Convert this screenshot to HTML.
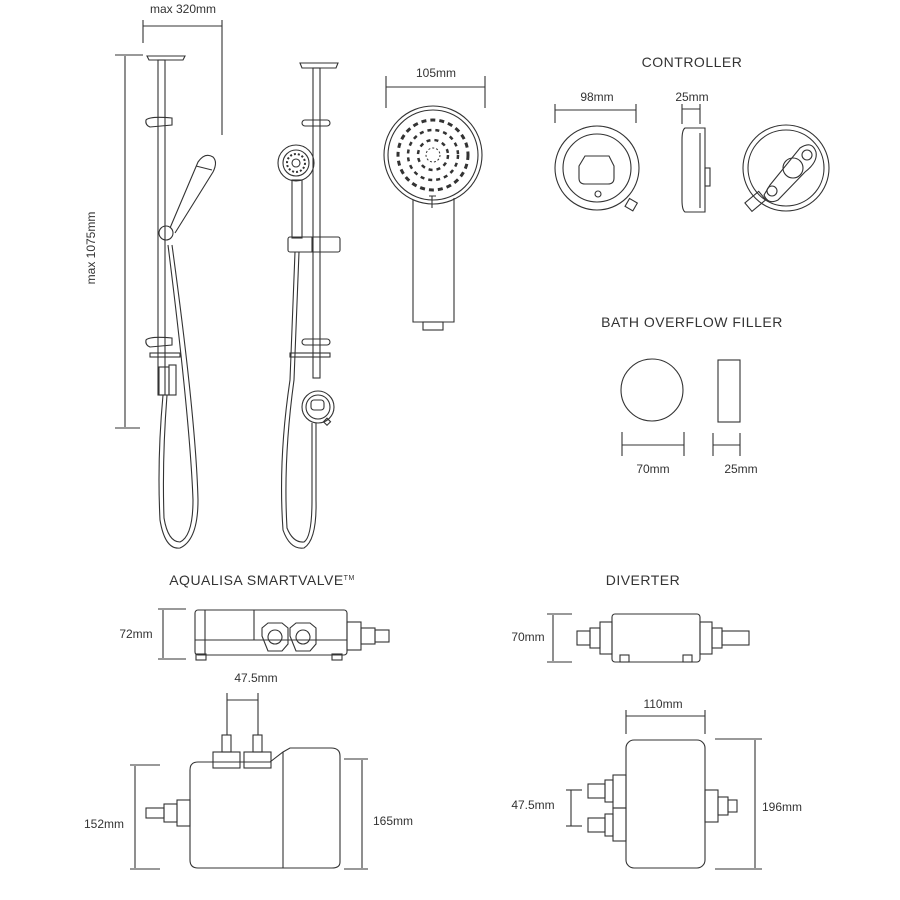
<!DOCTYPE html>
<html><head><meta charset="utf-8"><style>
html,body{margin:0;padding:0;background:#fff}
svg{display:block}
text{font-family:"Liberation Sans",sans-serif;fill:#333;font-size:12px}
.t{font-size:14px;letter-spacing:0.5px}
</style></head><body>
<svg width="900" height="900" viewBox="0 0 900 900" xmlns="http://www.w3.org/2000/svg">
<g fill="none" stroke="#333" stroke-width="1.1">
<!-- dimension: max 320 -->
<line x1="143" y1="26" x2="222" y2="26"/><line x1="143" y1="20" x2="143" y2="43"/><line x1="222" y1="20" x2="222" y2="135"/>
<line x1="125" y1="56" x2="125" y2="427"/><line x1="115" y1="55" x2="143" y2="55"/><line x1="115" y1="428" x2="140" y2="428"/>
<!-- shower 1 -->
<path d="M147 56 L185 56 L183 60 L149 60 Z"/>
<rect x="158" y="60" width="7" height="335"/>
<path d="M146 120 Q150 116 172 118 L172 125 L150 127 Q145 125 146 120Z"/>
<path d="M146 340 Q150 336 172 338 L172 345 L150 347 Q145 345 146 340Z"/>
<rect x="150" y="353" width="30" height="4"/>
<circle cx="166" cy="233" r="7"/>
<path d="M170 228 L198 162 Q205 152 213 157 Q218 162 213 172 L175 233"/>
<path d="M196 166 L212 170"/>
<rect x="159" y="367" width="10" height="28"/><rect x="169" y="365" width="7" height="30"/>
<path d="M163 395 Q157 460 160 520 Q165 550 180 548 Q198 540 198 500 Q196 420 172 245"/>
<path d="M167 395 Q162 460 164 518 Q168 542 180 542 Q193 536 193 500 Q190 420 168 245"/>
<!-- shower 2 -->
<path d="M300 63 L338 63 L336 68 L302 68 Z"/>
<rect x="313" y="68" width="7" height="310"/>
<rect x="302" y="120" width="28" height="6" rx="3"/>
<rect x="302" y="339" width="28" height="6" rx="3"/>
<rect x="290" y="353" width="40" height="4"/>
<circle cx="296" cy="163" r="18"/><circle cx="296" cy="163" r="13"/><circle cx="296" cy="163" r="4"/>
<rect x="292" y="180" width="10" height="58"/>
<rect x="288" y="237" width="52" height="15" rx="2"/><line x1="312" y1="237" x2="312" y2="252"/>
<circle cx="318" cy="407" r="16"/><circle cx="318" cy="407" r="12"/><rect x="311" y="400" width="13" height="10" rx="3"/>
<rect x="325" y="419" width="5" height="5" transform="rotate(45 327 421)"/>
<path d="M295 252 Q292 330 290 380 Q278 460 283 530 Q290 550 304 548 Q317 540 316 500 L316 423"/>
<path d="M299 252 Q296 330 294 380 Q283 460 287 528 Q293 543 304 542 Q312 537 312 500 L312 423"/>
<!-- big handset -->
<line x1="386" y1="87" x2="485" y2="87"/><line x1="386" y1="76" x2="386" y2="108"/><line x1="485" y1="76" x2="485" y2="108"/>
<circle cx="433" cy="155" r="49"/><circle cx="433" cy="155" r="45"/>
<path d="M413 200 L413 322 L454 322 L454 198"/>
<rect x="423" y="322" width="20" height="8"/>
<path d="M432 196 L432 208 M429 196 L436 196"/>
</g>
<g fill="none" stroke="#333" stroke-width="1">
<circle cx="433" cy="155" r="7" stroke-dasharray="2 2"/>
<circle cx="433" cy="155" r="15" stroke-dasharray="4 4" stroke-width="2.5"/>
<circle cx="433" cy="155" r="25" stroke-dasharray="4 4" stroke-width="2.5"/>
<circle cx="433" cy="155" r="35" stroke-dasharray="5 4" stroke-width="3"/>
<circle cx="296" cy="163" r="9" stroke-dasharray="2 2" stroke-width="2"/>
</g>
<g fill="none" stroke="#333" stroke-width="1.1">
<!-- controller -->
<line x1="555" y1="110" x2="636" y2="110"/><line x1="555" y1="104" x2="555" y2="123"/><line x1="636" y1="104" x2="636" y2="123"/>
<line x1="682" y1="109" x2="700" y2="109"/><line x1="682" y1="104" x2="682" y2="124"/><line x1="700" y1="104" x2="700" y2="124"/>
<circle cx="597" cy="168" r="42"/><circle cx="597" cy="168" r="34"/>
<path d="M585 156 L609 156 L614 166 L614 178 Q614 184 608 184 L585 184 Q579 184 579 178 L579 166 Z"/>
<circle cx="598" cy="194" r="3"/>
<rect x="627" y="200" width="9" height="9" transform="rotate(30 631 204)"/>
<path d="M685 128 L705 128 L705 212 L685 212 Q682 210 682 200 L682 140 Q682 130 685 128Z"/>
<line x1="700" y1="133" x2="700" y2="208"/><rect x="705" y="168" width="5" height="18"/>
<circle cx="786" cy="168" r="43"/><circle cx="786" cy="168" r="38"/>
<path d="M770 185 L800 148 Q812 140 816 152 Q818 162 805 172 L778 200 Q768 205 764 195Z"/>
<circle cx="793" cy="168" r="10"/><circle cx="807" cy="155" r="5"/><circle cx="772" cy="191" r="5"/>
<rect x="746" y="196" width="18" height="11" transform="rotate(-40 755 201)"/>
<!-- bath -->
<circle cx="652" cy="390" r="31"/>
<rect x="718" y="360" width="22" height="62"/>
<line x1="622" y1="445" x2="684" y2="445"/><line x1="622" y1="432" x2="622" y2="456"/><line x1="684" y1="432" x2="684" y2="456"/>
<line x1="713" y1="445" x2="740" y2="445"/><line x1="713" y1="433" x2="713" y2="456"/><line x1="740" y1="433" x2="740" y2="456"/>
<!-- smartvalve top -->
<line x1="163" y1="610" x2="163" y2="658"/><line x1="158" y1="609" x2="186" y2="609"/><line x1="158" y1="659" x2="186" y2="659"/>
<rect x="195" y="610" width="152" height="45" rx="3"/>
<line x1="205" y1="610" x2="205" y2="655"/><line x1="254" y1="610" x2="254" y2="640"/>
<line x1="195" y1="640" x2="347" y2="640"/>
<path d="M262 636 L262 628 L268 623 L282 623 L288 628 L288 644 L282 651 L268 651Z"/><circle cx="275" cy="637" r="7"/>
<path d="M290 636 L290 628 L296 623 L310 623 L316 628 L316 644 L310 651 L296 651Z"/><circle cx="303" cy="637" r="7"/>
<rect x="347" y="622" width="14" height="28"/><rect x="361" y="628" width="14" height="16"/><rect x="375" y="630" width="14" height="12"/>
<rect x="196" y="654" width="10" height="6"/><rect x="332" y="654" width="10" height="6"/>
<!-- smartvalve front -->
<line x1="227" y1="700" x2="258" y2="700"/><line x1="227" y1="693" x2="227" y2="735"/><line x1="258" y1="693" x2="258" y2="735"/>
<rect x="222" y="735" width="9" height="17"/><rect x="253" y="735" width="9" height="17"/>
<rect x="213" y="752" width="27" height="16"/><rect x="244" y="752" width="27" height="16"/>
<path d="M198 762 L270 762 L283 752 L290 748 L331 748 Q340 748 340 756 L340 862 Q340 868 332 868 L198 868 Q190 868 190 860 L190 770 Q190 762 198 762Z"/>
<line x1="283" y1="752" x2="283" y2="868"/>
<rect x="177" y="800" width="13" height="26"/><rect x="164" y="804" width="13" height="18"/><rect x="146" y="808" width="18" height="10"/>
<line x1="135" y1="766" x2="135" y2="868"/><line x1="130" y1="765" x2="160" y2="765"/><line x1="130" y1="869" x2="160" y2="869"/>
<line x1="362" y1="760" x2="362" y2="868"/><line x1="344" y1="759" x2="368" y2="759"/><line x1="344" y1="869" x2="368" y2="869"/>
<!-- diverter top -->
<line x1="553" y1="615" x2="553" y2="661"/><line x1="547" y1="614" x2="572" y2="614"/><line x1="547" y1="662" x2="572" y2="662"/>
<rect x="612" y="614" width="88" height="48" rx="3"/>
<rect x="600" y="622" width="12" height="32"/><rect x="590" y="628" width="10" height="20"/><rect x="577" y="631" width="13" height="14"/>
<rect x="700" y="622" width="12" height="32"/><rect x="712" y="628" width="10" height="20"/><rect x="722" y="631" width="27" height="14"/>
<rect x="620" y="655" width="9" height="7"/><rect x="683" y="655" width="9" height="7"/>
<!-- diverter front -->
<line x1="626" y1="716" x2="705" y2="716"/><line x1="626" y1="710" x2="626" y2="734"/><line x1="705" y1="710" x2="705" y2="734"/>
<rect x="626" y="740" width="79" height="128" rx="8"/>
<rect x="613" y="775" width="13" height="33"/><rect x="605" y="780" width="8" height="22"/><rect x="588" y="784" width="17" height="14"/>
<rect x="613" y="808" width="13" height="33"/><rect x="605" y="814" width="8" height="22"/><rect x="588" y="818" width="17" height="14"/>
<rect x="705" y="790" width="13" height="32"/><rect x="718" y="797" width="10" height="18"/><rect x="728" y="800" width="9" height="12"/>
<line x1="571" y1="790" x2="571" y2="826"/><line x1="566" y1="790" x2="582" y2="790"/><line x1="566" y1="826" x2="582" y2="826"/>
<line x1="755" y1="740" x2="755" y2="868"/><line x1="715" y1="739" x2="762" y2="739"/><line x1="715" y1="869" x2="762" y2="869"/>
</g>
<text x="183" y="13" text-anchor="middle">max 320mm</text>
<text x="0" y="0" text-anchor="middle" transform="translate(95 248) rotate(-90)">max 1075mm</text>
<text x="436" y="77" text-anchor="middle">105mm</text>
<text x="692" y="67" text-anchor="middle" class="t">CONTROLLER</text>
<text x="597" y="101" text-anchor="middle">98mm</text>
<text x="692" y="101" text-anchor="middle">25mm</text>
<text x="692" y="327" text-anchor="middle" class="t">BATH OVERFLOW FILLER</text>
<text x="653" y="473" text-anchor="middle">70mm</text>
<text x="741" y="473" text-anchor="middle">25mm</text>
<text x="262" y="585" text-anchor="middle" class="t">AQUALISA SMARTVALVE<tspan font-size="7" dy="-5">TM</tspan></text>
<text x="643" y="585" text-anchor="middle" class="t">DIVERTER</text>
<text x="136" y="638" text-anchor="middle">72mm</text>
<text x="528" y="641" text-anchor="middle">70mm</text>
<text x="256" y="682" text-anchor="middle">47.5mm</text>
<text x="663" y="708" text-anchor="middle">110mm</text>
<text x="104" y="828" text-anchor="middle">152mm</text>
<text x="393" y="825" text-anchor="middle">165mm</text>
<text x="533" y="809" text-anchor="middle">47.5mm</text>
<text x="782" y="811" text-anchor="middle">196mm</text>
</svg>
</body></html>
